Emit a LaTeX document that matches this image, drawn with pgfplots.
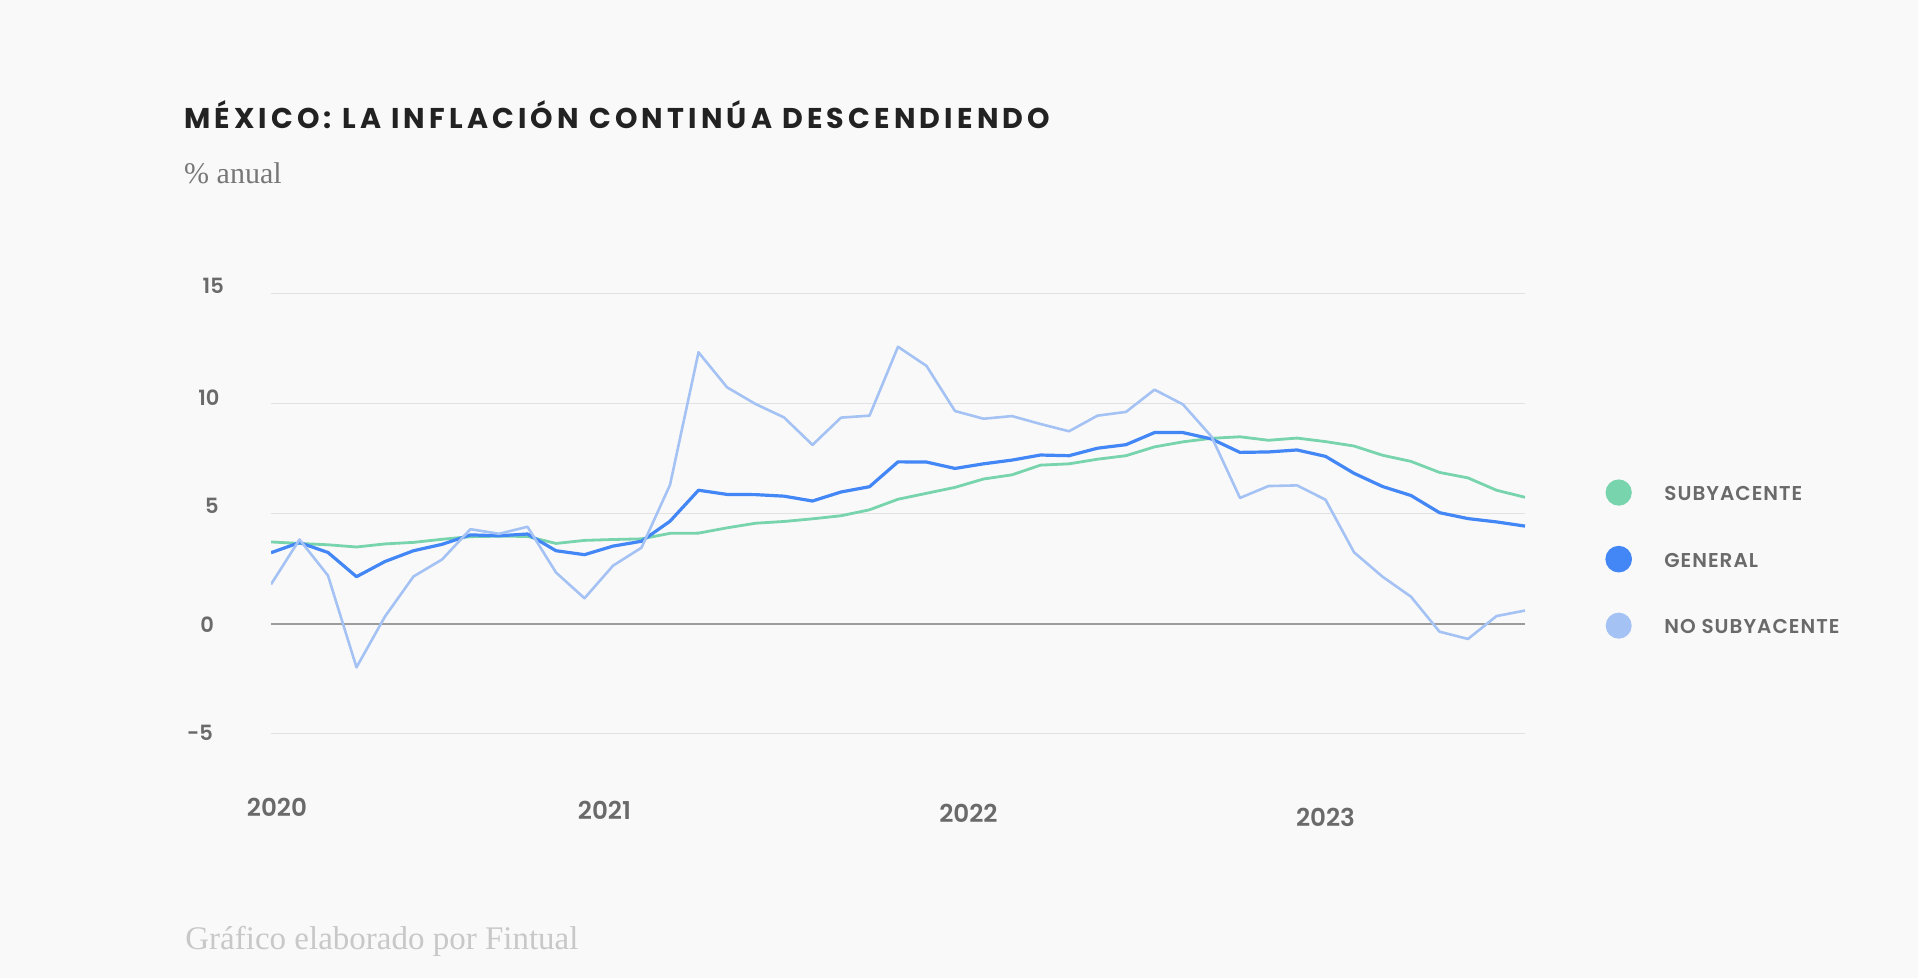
\documentclass[border=0pt]{standalone}
\usepackage{fontspec}
\usepackage{pgfplots}
\pgfplotsset{compat=1.18}
\usepackage{pgfplotstable}

\setmainfont{Poppins}
\newfontfamily\titlefont{Poppins Bold}[LetterSpace=14.5]
\newfontfamily\legfont{Poppins SemiBold}[LetterSpace=5]
\newfontfamily\tickfont{Poppins SemiBold}
\newfontfamily\serif{Liberation Serif}

\definecolor{bgc}{HTML}{F9F9F9}
\definecolor{gridc}{HTML}{E2E2E2}
\definecolor{zeroc}{HTML}{9C9C9C}
\definecolor{titlec}{HTML}{222222}
\definecolor{subc}{HTML}{777777}
\definecolor{footc}{HTML}{C8C8C8}
\definecolor{tickc}{HTML}{6A6A6A}
\definecolor{core}{HTML}{78D4AC}
\definecolor{gen}{HTML}{4287F5}
\definecolor{noncore}{HTML}{A4C2F4}

% inflacion anual, ene 2020 - sep 2023 (mes 0 = ene 2020)
\pgfplotstableread{
m core general noncore
0 3.73 3.24 1.80
1 3.66 3.70 3.84
2 3.60 3.25 2.20
3 3.50 2.15 -1.97
4 3.64 2.84 0.34
5 3.71 3.33 2.16
6 3.85 3.62 2.93
7 3.97 4.05 4.31
8 3.99 4.01 4.10
9 3.98 4.09 4.42
10 3.66 3.33 2.34
11 3.80 3.15 1.17
12 3.84 3.54 2.65
13 3.87 3.76 3.47
14 4.12 4.67 6.32
15 4.13 6.08 12.35
16 4.37 5.89 10.76
17 4.58 5.88 10.00
18 4.66 5.81 9.39
19 4.78 5.59 8.14
20 4.92 6.00 9.38
21 5.19 6.24 9.47
22 5.67 7.37 12.60
23 5.94 7.36 11.73
24 6.21 7.07 9.68
25 6.59 7.28 9.33
26 6.78 7.45 9.45
27 7.22 7.68 9.09
28 7.28 7.65 8.76
29 7.49 7.99 9.47
30 7.65 8.15 9.64
31 8.05 8.70 10.65
32 8.28 8.70 9.98
33 8.44 8.41 8.52
34 8.51 7.80 5.73
35 8.35 7.82 6.27
36 8.45 7.91 6.30
37 8.29 7.62 5.65
38 8.09 6.85 3.26
39 7.67 6.25 2.15
40 7.39 5.84 1.24
41 6.89 5.06 -0.35
42 6.64 4.79 -0.68
43 6.08 4.64 0.36
44 5.76 4.45 0.61
}\datos

\begin{document}
\begin{tikzpicture}
\fill[bgc] (0pt,0pt) rectangle (959pt,489pt);

\node[anchor=base west, inner sep=0pt, text=titlec, font=\titlefont\fontsize{14.3pt}{16pt}\selectfont]
  at (91.9pt,424.8pt) {MÉXICO: LA INFLACIÓN CONTINÚA DESCENDIENDO};
\node[anchor=base west, inner sep=0pt, text=subc, font=\serif\fontsize{15pt}{17pt}\selectfont]
  at (91.9pt,397.3pt) {\% anual};
\node[anchor=base west, inner sep=0pt, text=footc, font=\serif\fontsize{16.5pt}{18pt}\selectfont]
  at (92.5pt,14pt) {Gráfico elaborado por Fintual};

\begin{axis}[
  at={(135.5pt,122pt)}, anchor=south west,
  scale only axis, width=627pt, height=220pt,
  xmin=0, xmax=44, ymin=-5, ymax=15,
  axis line style={draw=none},
  major tick style={draw=none},
  ytick={-5,5,10,15},
  yticklabels={{\raisebox{-3.15pt}{-5}},{\hspace*{8.95pt}5},{\hspace*{5.6pt}\raisebox{-0.7pt}{10}},{\hspace*{7.8pt}15}},
  extra y ticks={0},
  extra y tick labels={{\hspace*{6.65pt}\raisebox{-4.5pt}{0}}},
  extra y tick style={grid style={color=zeroc, line width=0.6pt}},
  yticklabel style={anchor=base west, inner sep=0pt, xshift=-42.15pt, text=tickc,
    font=\tickfont\fontsize{10.5pt}{12pt}\selectfont},
  ymajorgrids,
  grid style={color=gridc, line width=0.5pt},
  xtick={0.21,11.70,24.47,37.00},
  xticklabels={{2020},{\raisebox{-1.75pt}{2021}},{\raisebox{-3.25pt}{2022}},{\raisebox{-5pt}{2023}}},
  xticklabel style={anchor=base, inner sep=0pt, yshift=-41.15pt, text=tickc,
    font=\tickfont\fontsize{12.3pt}{14pt}\selectfont},
  legend cell align=left,
  legend image code/.code={\fill[#1] (0pt,1.2pt) circle (5.85pt);},
  legend style={at={(1.0638,0.5794)}, anchor=north west, draw=none, fill=none,
    inner sep=0pt, row sep=20.1pt, column sep=16.2pt,
    nodes={inner sep=0pt, text=tickc}, font=\legfont\fontsize{10pt}{12pt}\selectfont},
]
\addplot[color=core, line width=1.4pt, line join=round] table[x=m, y=core] {\datos};
\addlegendentry{SUBYACENTE}
\addplot[color=gen, line width=1.6pt, line join=round] table[x=m, y=general] {\datos};
\addlegendentry{GENERAL}
\addplot[color=noncore, line width=1.3pt, line join=round] table[x=m, y=noncore] {\datos};
\addlegendentry{NO SUBYACENTE}
\end{axis}
\end{tikzpicture}
\end{document}
